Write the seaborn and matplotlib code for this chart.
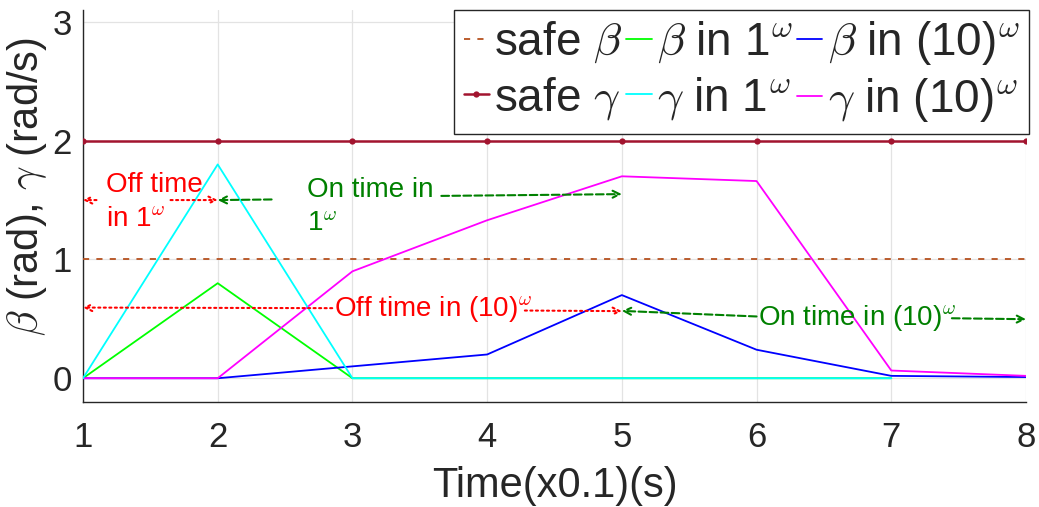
import numpy as np
import pandas as pd
import seaborn as sns
import matplotlib
matplotlib.use("Agg")
import matplotlib.pyplot as plt

# ---------------- data ----------------
time_1w = [1, 2, 3, 4, 5, 6, 7]
time_10w = [1, 2, 3, 4, 5, 6, 7, 8]
beta_1w = [0, 0.80, 0, 0, 0, 0, 0]
gamma_1w = [0, 1.80, 0, 0, 0, 0, 0]
beta_10w = [0, 0, 0.10, 0.20, 0.70, 0.24, 0.02, 0.01]
gamma_10w = [0, 0, 0.90, 1.33, 1.70, 1.66, 0.065, 0.02]
safe_beta = [1, 1, 1, 1, 1, 1, 1, 1]
safe_gamma = [2, 2, 2, 2, 2, 2, 2, 2]
x_ticks = [1, 2, 3, 4, 5, 6, 7, 8]
y_ticks = [0, 1, 2, 3]

sns.set_style("white")
plt.rcParams['font.family'] = ['Liberation Sans', 'DejaVu Sans']
plt.rcParams['mathtext.fontset'] = 'cm'

fig = plt.figure(figsize=(10.39, 5.07), dpi=100)
ax = fig.add_axes([83/1039, 1-402/507, (1026-83)/1039, (402-10)/507])

lw = 1.3
sns.lineplot(x=time_10w, y=safe_beta, ax=ax, color="#B5501E", lw=lw, linestyle=(0, (3.4, 4.0)),
             label=r"safe $\beta$", zorder=3)
sns.lineplot(x=time_10w, y=safe_gamma, ax=ax, color="#A2142F", lw=1.8, marker="o", markersize=4.5,
             markeredgewidth=0, label=r"safe $\gamma$", zorder=3)
sns.lineplot(x=time_1w, y=beta_1w, ax=ax, color="#00FF00", lw=lw, label=r"$\beta$ in 1$^\omega$", zorder=3)
sns.lineplot(x=time_1w, y=gamma_1w, ax=ax, color="#00FFFF", lw=lw, label=r"$\gamma$ in 1$^\omega$", zorder=4)
sns.lineplot(x=time_10w, y=beta_10w, ax=ax, color="#0000FF", lw=lw, label=r"$\beta$ in (10)$^\omega$", zorder=3)
sns.lineplot(x=time_10w, y=gamma_10w, ax=ax, color="#FF00FF", lw=lw, label=r"$\gamma$ in (10)$^\omega$", zorder=3)

ax.set_xlim(1, 8)
ax.set_ylim(-0.2, 3.1)
ax.set_xticks(x_ticks)
ax.set_yticks(y_ticks)
ax.tick_params(axis='both', labelsize=25, direction='in', length=7, width=0.8, color="#262626",
               labelcolor="#262626")
ax.tick_params(axis='x', pad=14)
ax.tick_params(axis='y', pad=8)
ax.grid(True, color="#E3E3E3", lw=0.9)
for s in ['top', 'right']:
    ax.spines[s].set_visible(False)
for s in ['left', 'bottom']:
    ax.spines[s].set_color("#262626")
    ax.spines[s].set_linewidth(1.0)

ax.set_xlabel("Time(x0.1)(s)", fontsize=30, color="#262626", labelpad=8)
ax.set_ylabel(r"$\beta$ (rad), $\gamma$ (rad/s)", fontsize=30, color="#262626")
ax.yaxis.set_label_coords(-0.036, 0.55)

# ---------------- annotations ----------------
red = "#FF0000"
green = "#008000"

def arrow(x0, y0, x1, y1, color, ls):
    ax.annotate("", xy=(x1, y1), xytext=(x0, y0),
                arrowprops=dict(arrowstyle="->,head_length=0.5,head_width=0.25", color=color,
                                lw=1.5, linestyle=ls, shrinkA=0, shrinkB=0), zorder=5)

# Off time in 1^w
arrow(1.10, 1.5, 1.0, 1.5, red, ':')
arrow(1.65, 1.5, 2.0, 1.5, red, ':')
ax.text(1.17, 1.48, "Off time\nin 1$^\\omega$", color=red, fontsize=20, ha='left', va='center',
        linespacing=1.4, zorder=6)
# On time in 1^w
arrow(2.40, 1.505, 2.0, 1.5, green, '--')
arrow(3.66, 1.535, 5.0, 1.55, green, '--')
ax.text(2.66, 1.44, "On time in\n1$^\\omega$", color=green, fontsize=20, ha='left', va='center',
        linespacing=1.4, zorder=6)
# Off time in (10)^w
arrow(2.85, 0.59, 1.0, 0.595, red, ':')
arrow(4.28, 0.57, 5.0, 0.565, red, ':')
ax.text(2.86, 0.58, "Off time in (10)$^\\omega$", color=red, fontsize=20, ha='left', va='center', zorder=6)
# On time in (10)^w
arrow(6.0, 0.52, 5.0, 0.567, green, '--')
arrow(7.45, 0.505, 8.0, 0.497, green, '--')
ax.text(6.01, 0.51, "On time in (10)$^\\omega$", color=green, fontsize=20, ha='left', va='center', zorder=6)

leg = ax.legend(ncol=3, loc='upper right', bbox_to_anchor=(1029/1039, 1-10/507),
                bbox_transform=fig.transFigure, borderaxespad=0, fontsize=33,
                handlelength=0.55, handletextpad=0.12, columnspacing=0.08, labelspacing=0.2,
                borderpad=0.2, frameon=True, fancybox=False, framealpha=1, edgecolor="#262626")
leg.get_frame().set_linewidth(1.0)
leg.set_zorder(10)

fig.savefig("out.png", dpi=100)
